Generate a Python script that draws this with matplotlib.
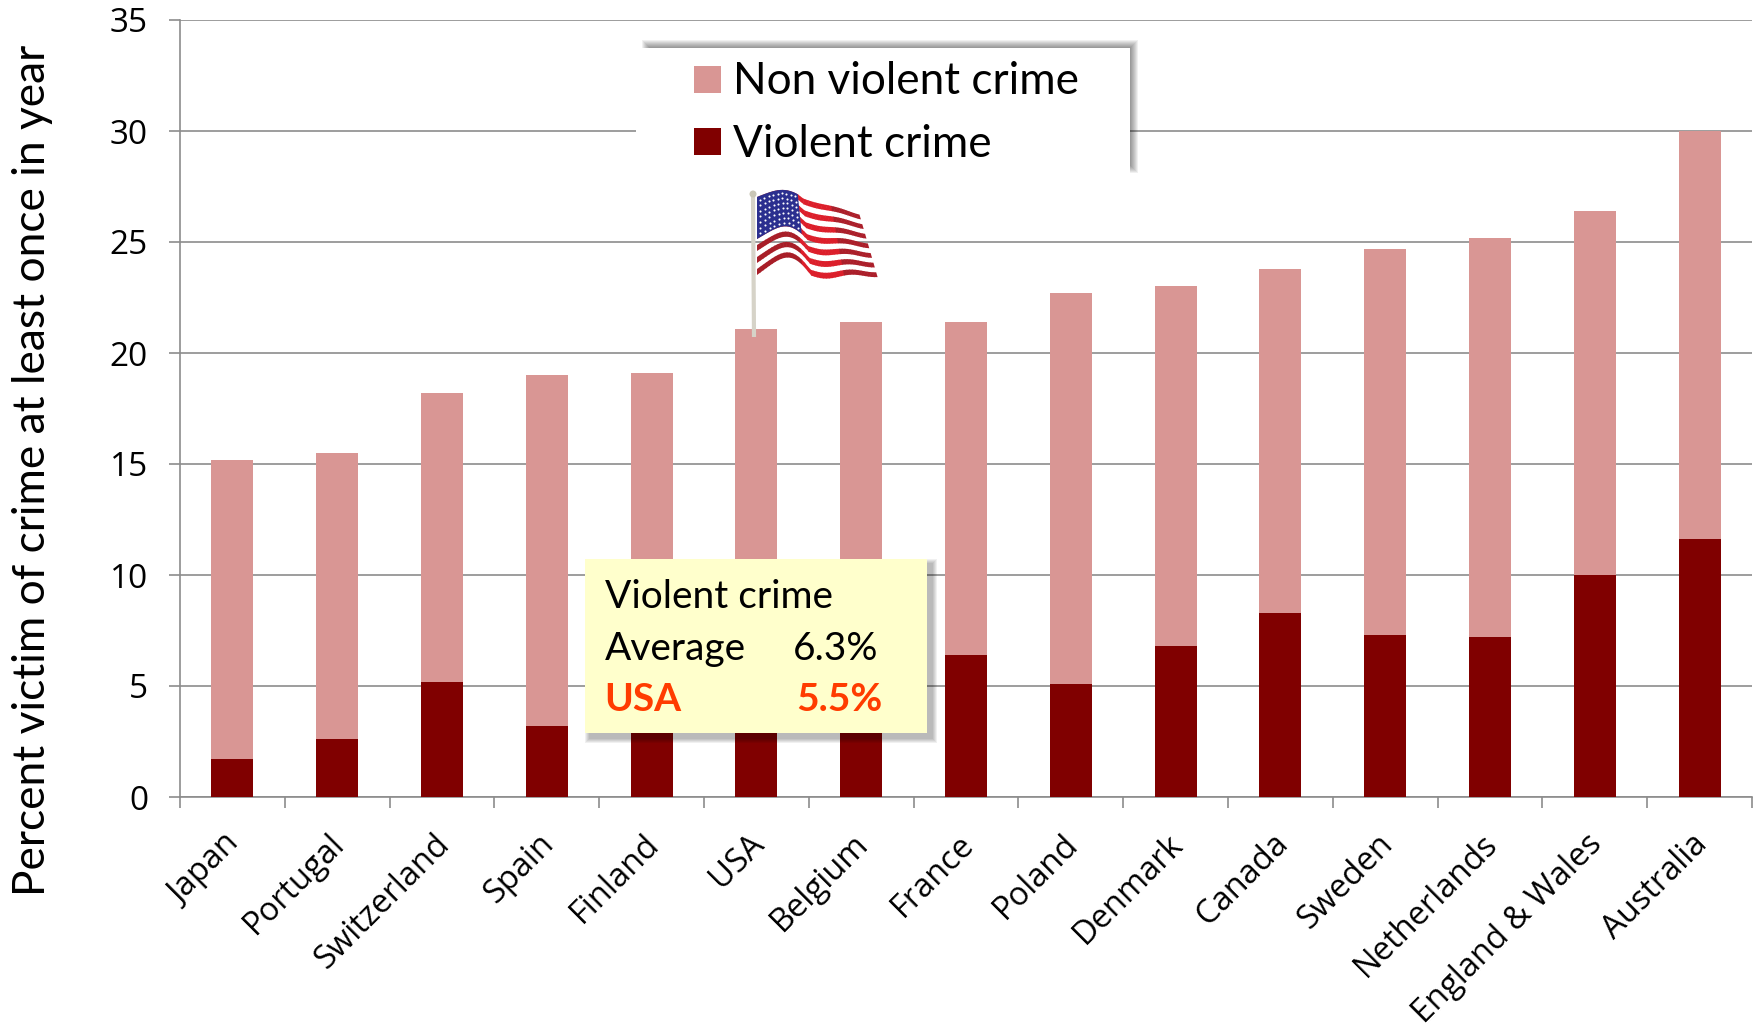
#!/usr/bin/env python

import numpy as np
import matplotlib
matplotlib.use('Agg')
import matplotlib.pyplot as plt
from matplotlib.patches import Rectangle, Polygon, Circle
from matplotlib.transforms import ScaledTranslation

countries = ['Japan', 'Portugal', 'Switzerland', 'Spain', 'Finland', 'USA', 'Belgium',
             'France', 'Poland', 'Denmark', 'Canada', 'Sweden', 'Netherlands',
             'England & Wales', 'Australia']
# Finland and Belgium violent values are hidden behind the note box, estimated
violent = [1.7, 2.6, 5.2, 3.2, 6.8, 5.5, 6.8, 6.4, 5.1, 6.8, 8.3, 7.3, 7.2, 10.0, 11.6]
total = [15.2, 15.5, 18.2, 19.0, 19.1, 21.1, 21.4, 21.4, 22.7, 23.0, 23.8, 24.7, 25.2, 26.4, 30.0]
yticks = [0, 5, 10, 15, 20, 25, 30, 35]

W, H = 1762, 1027
PINK = '#d99694'
DARK = '#800000'
GRID = '#8c8c8c'
RED = '#ff3c00'
TEXT_FONT = 'Lato'
TICK_FONT = 'Open Sans'

def shadow(ov, x0, y0, x1, y1, blur=6, alpha=0.07):
  # soft drop shadow made of stacked see-through rectangles
  for i in range(blur):
    g = blur - i
    ov.add_patch(Rectangle((x0 - g, y0 - g), x1 - x0 + 2*g, y1 - y0 + 2*g,
                           fc='k', ec='none', alpha=alpha, zorder=2))

def flag_xy(u, v):
  # waving flag surface, u along the cloth, v down the cloth
  x = 757 + u*(102 + 18*v)
  top = 197 - 7*np.sin(np.pi*np.clip(u/0.45, 0, 1)) + 17*np.clip((u - 0.4)/0.6, 0, 1)
  bottom = 275 - 17*np.sin(np.pi*np.clip(u/0.45, 0, 1)) + 2*np.sin(np.pi*np.clip((u - 0.4)/0.6, 0, 1))
  y = top + v*(bottom - top) + 1.5*np.sin(u*14)*(0.4 + v)
  return x, y

def stripe_color(u):
  if u < 0.36:
    return '#a81e28'
  if u < 0.72:
    return '#dc1f2b'
  return '#ab1f2a'

def draw_flag(ov):
  ov.plot([753, 754], [194, 337], color='#d6d3c8', lw=3, zorder=6, solid_capstyle='butt')
  ov.add_patch(Circle((753, 194), 3.5, fc='#c9c6b6', ec='none', zorder=7))
  edges = np.linspace(0, 1, 41)
  for i in range(13):
    if i % 2:
      continue
    v0, v1 = i/13, (i + 1)/13
    for a, b in zip(edges[:-1], edges[1:]):
      us = np.array([a, b + 0.005])
      x0, y0 = flag_xy(us, v0)
      x1, y1 = flag_xy(us, v1)
      ov.add_patch(Polygon(np.r_[np.c_[x0, y0], np.c_[x1, y1][::-1]],
                           fc=stripe_color(a), ec='none', zorder=5))
  uc = np.linspace(0, 0.4, 30)
  x0, y0 = flag_xy(uc, 0)
  x1, y1 = flag_xy(uc, 7/13)
  ov.add_patch(Polygon(np.r_[np.c_[x0, y0], np.c_[x1, y1][::-1]], fc='#2b2f8f', ec='none', zorder=5.5))
  for a in np.linspace(0.03, 0.37, 9):
    for b in np.linspace(0.05, 0.49, 7):
      sx, sy = flag_xy(a, b)
      ov.plot(sx, sy, 'o', color='white', ms=1.5, mew=0, zorder=5.6)

def main():
  fig = plt.figure(figsize=(W/100, H/100), dpi=100)
  ax = fig.add_axes([180/W, 1 - 797/H, (1752 - 180)/W, (797 - 20)/H])

  x = np.arange(len(countries))
  non_violent = np.array(total) - np.array(violent)
  ax.bar(x, violent, width=0.4, color=DARK, zorder=3)
  ax.bar(x, non_violent, width=0.4, bottom=violent, color=PINK, zorder=3)

  ax.set_xlim(-0.5, len(countries) - 0.5)
  ax.set_ylim(0, 35)
  ax.set_yticks(yticks)
  ax.grid(axis='y', color=GRID, lw=1.2, zorder=1)
  ax.set_xticks(np.arange(len(countries) + 1) - 0.5)
  ax.set_xticklabels([])
  ax.set_xticks(x, minor=True)
  ax.set_xticklabels(countries, minor=True, rotation=45, ha='right', va='top',
                     rotation_mode='anchor', fontsize=23.5, family=TICK_FONT)
  ax.tick_params(axis='x', which='minor', length=0, pad=22)
  ax.tick_params(axis='both', which='major', length=8, width=1.2, color=GRID)
  ax.tick_params(axis='y', labelsize=24, pad=15)
  for lab in ax.get_yticklabels():
    lab.set_family(TICK_FONT)
  # the slanted labels sit a bit left of the bar centres
  shift = ScaledTranslation(-9/100, 0, fig.dpi_scale_trans)
  for lab in ax.get_xticklabels(minor=True):
    lab.set_transform(lab.get_transform() + shift)
  for side in ['top', 'right']:
    ax.spines[side].set_visible(False)
  for side in ['left', 'bottom']:
    ax.spines[side].set_color(GRID)
    ax.spines[side].set_linewidth(1.2)

  fig.text(33/W, 1 - 470/H, 'Percent victim of crime at least once in year', rotation=90,
           ha='center', va='center', fontsize=31.9, family=TEXT_FONT)

  # overlay in pixel coordinates for the pasted-on legend, note and flag
  ov = fig.add_axes([0, 0, 1, 1])
  ov.set_xlim(0, W)
  ov.set_ylim(H, 0)
  ov.axis('off')
  ov.patch.set_alpha(0)

  shadow(ov, 650, 48, 1130, 165, blur=8, alpha=0.06)
  ov.add_patch(Rectangle((636, 48), 494, 125, fc='white', ec='none', zorder=3))
  ov.add_patch(Rectangle((694, 66), 27, 27, fc=PINK, ec='none', zorder=4))
  ov.add_patch(Rectangle((694, 128), 27, 27, fc=DARK, ec='none', zorder=4))
  ov.text(733, 94, 'Non violent crime', fontsize=31.8, family=TEXT_FONT, va='baseline', zorder=4)
  ov.text(733, 157, 'Violent crime', fontsize=31.8, family=TEXT_FONT, va='baseline', zorder=4)

  shadow(ov, 590, 564, 932, 738, blur=5, alpha=0.06)
  ov.add_patch(Rectangle((585, 559), 342, 174, fc='#ffffcc', ec='none', zorder=3))
  ov.text(605, 608, 'Violent crime', fontsize=28, family=TEXT_FONT, va='baseline', zorder=4)
  ov.text(605, 660, 'Average', fontsize=28, family=TEXT_FONT, va='baseline', zorder=4)
  ov.text(793, 660, '6.3%', fontsize=28, family=TEXT_FONT, va='baseline', zorder=4)
  ov.text(604, 711, 'USA', fontsize=28, family=TEXT_FONT, va='baseline', weight='bold', color=RED, zorder=4)
  ov.text(796, 711, '5.5%', fontsize=28, family=TEXT_FONT, va='baseline', weight='bold', color=RED, zorder=4)

  draw_flag(ov)

  fig.savefig('out.png', dpi=100)

if __name__ == "__main__":
  main()
